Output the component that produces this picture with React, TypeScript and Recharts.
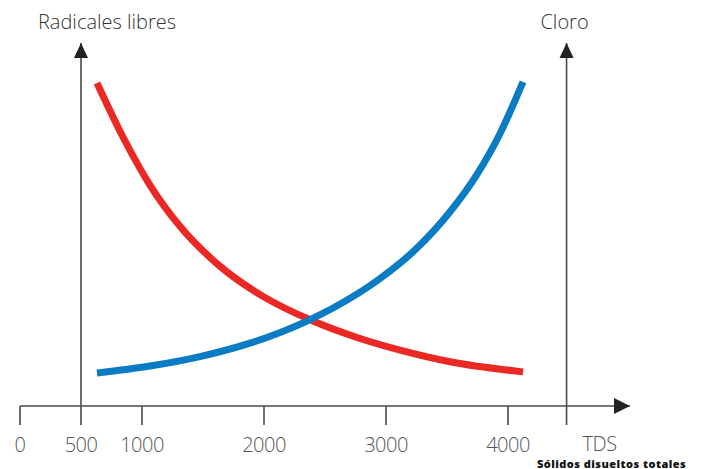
import React from 'react';
import { LineChart, Line, XAxis, YAxis, ReferenceLine, ReferenceDot } from 'recharts';

const tdsTicks = [0, 500, 1000, 2000, 3000, 4000, 4480];
const tickLabels = ['0', '500', '1000', '2000', '3000', '4000', ''];

const radicalesX = [631, 844, 1066, 1311, 1639, 1992, 2402, 2787, 3115, 3525, 4123];
const radicalesY = [89.0, 74.1, 60.8, 49.5, 38.5, 30.2, 23.4, 18.6, 15.4, 12.2, 9.4];

const cloroX = [631, 1066, 1475, 1885, 2352, 2566, 2926, 3254, 3525, 3746, 3934, 4123];
const cloroY = [9.1, 11.0, 13.6, 17.3, 23.4, 27.0, 34.5, 43.5, 53.5, 63.8, 75.0, 89.3];

const leftAxisX = 500;
const rightAxisX = 4480;
const xMax = 5000;
const yMax = 100;

const radicalesData = radicalesX.map((x, i) => ({ x, y: radicalesY[i] }));
const cloroData = cloroX.map((x, i) => ({ x, y: cloroY[i] }));

const FONT = '"Open Sans", Lato, sans-serif';
const AXIS_COLOR = '#4a4a4a';

const Tick = (props: any) => {
  const { x, y, payload } = props;
  const idx = tdsTicks.indexOf(payload.value);
  const label = idx >= 0 ? tickLabels[idx] : String(payload.value);
  return (
    <text x={x} y={y + 25} textAnchor="middle" fontFamily={FONT} fontWeight={300} fontSize={20} letterSpacing={-0.5} fill="#555">
      {label}
    </text>
  );
};

const UpArrow = (title: string, dx: number) => (props: any) => {
  const { cx, cy } = props;
  return (
    <g>
      <path d={`M${cx - 7},${cy + 15} L${cx},${cy} L${cx + 7},${cy + 15} Z`} fill="#222" />
      <text x={cx + dx} y={cy - 14} textAnchor="middle" fontFamily={FONT} fontWeight={300} fontSize={20} fill="#333">
        {title}
      </text>
    </g>
  );
};

const RightArrow = (props: any) => {
  const { cx, cy } = props;
  return <path d={`M${cx - 16},${cy - 8} L${cx},${cy} L${cx - 16},${cy + 8} Z`} fill="#222" />;
};

const TdsLabel = (props: any) => {
  const { cx, cy } = props;
  return (
    <g>
      <text x={cx + 33} y={cy + 45} textAnchor="middle" fontFamily={FONT} fontWeight={300} fontSize={20} letterSpacing={-0.5} fill="#555">
        TDS
      </text>
      <text x={cx + 45} y={cy + 61.5} textAnchor="middle" fontFamily={FONT} fontWeight={800} fontSize={11} letterSpacing={0.45} fill="#111">
        Sólidos disueltos totales
      </text>
    </g>
  );
};

export default function App() {
  return (
    <div style={{ position: 'absolute', left: 0, top: 0, width: 707, height: 469, background: '#fff' }}>
      <LineChart width={707} height={469} margin={{ top: 43, right: 77, bottom: 23, left: 20 }}>
        <XAxis
          type="number"
          dataKey="x"
          domain={[0, xMax]}
          ticks={tdsTicks}
          tick={<Tick />}
          tickSize={19}
          height={40}
          axisLine={{ stroke: AXIS_COLOR, strokeWidth: 1.6 }}
          tickLine={{ stroke: AXIS_COLOR, strokeWidth: 1.6 }}
          interval={0}
          allowDataOverflow
        />
        <YAxis type="number" domain={[0, yMax]} hide allowDataOverflow />
        <ReferenceLine x={leftAxisX} stroke={AXIS_COLOR} strokeWidth={1.6} ifOverflow="visible" />
        <ReferenceLine x={rightAxisX} stroke={AXIS_COLOR} strokeWidth={1.6} ifOverflow="visible" />
        <Line
          data={radicalesData}
          dataKey="y"
          type="monotone"
          stroke="#ec2824"
          strokeWidth={7}
          strokeLinecap="butt"
          dot={false}
          activeDot={false}
          isAnimationActive={false}
        />
        <Line
          data={cloroData}
          dataKey="y"
          type="monotone"
          stroke="#0a7cc4"
          strokeWidth={7}
          strokeLinecap="butt"
          dot={false}
          activeDot={false}
          isAnimationActive={false}
        />
        <ReferenceDot x={leftAxisX} y={yMax} r={0} ifOverflow="visible" shape={UpArrow('Radicales libres', 26)} />
        <ReferenceDot x={rightAxisX} y={yMax} r={0} ifOverflow="visible" shape={UpArrow('Cloro', -2)} />
        <ReferenceDot x={xMax} y={0} r={0} ifOverflow="visible" shape={RightArrow} />
        <ReferenceDot x={rightAxisX} y={0} r={0} ifOverflow="visible" shape={TdsLabel} />
      </LineChart>
    </div>
  );
}
